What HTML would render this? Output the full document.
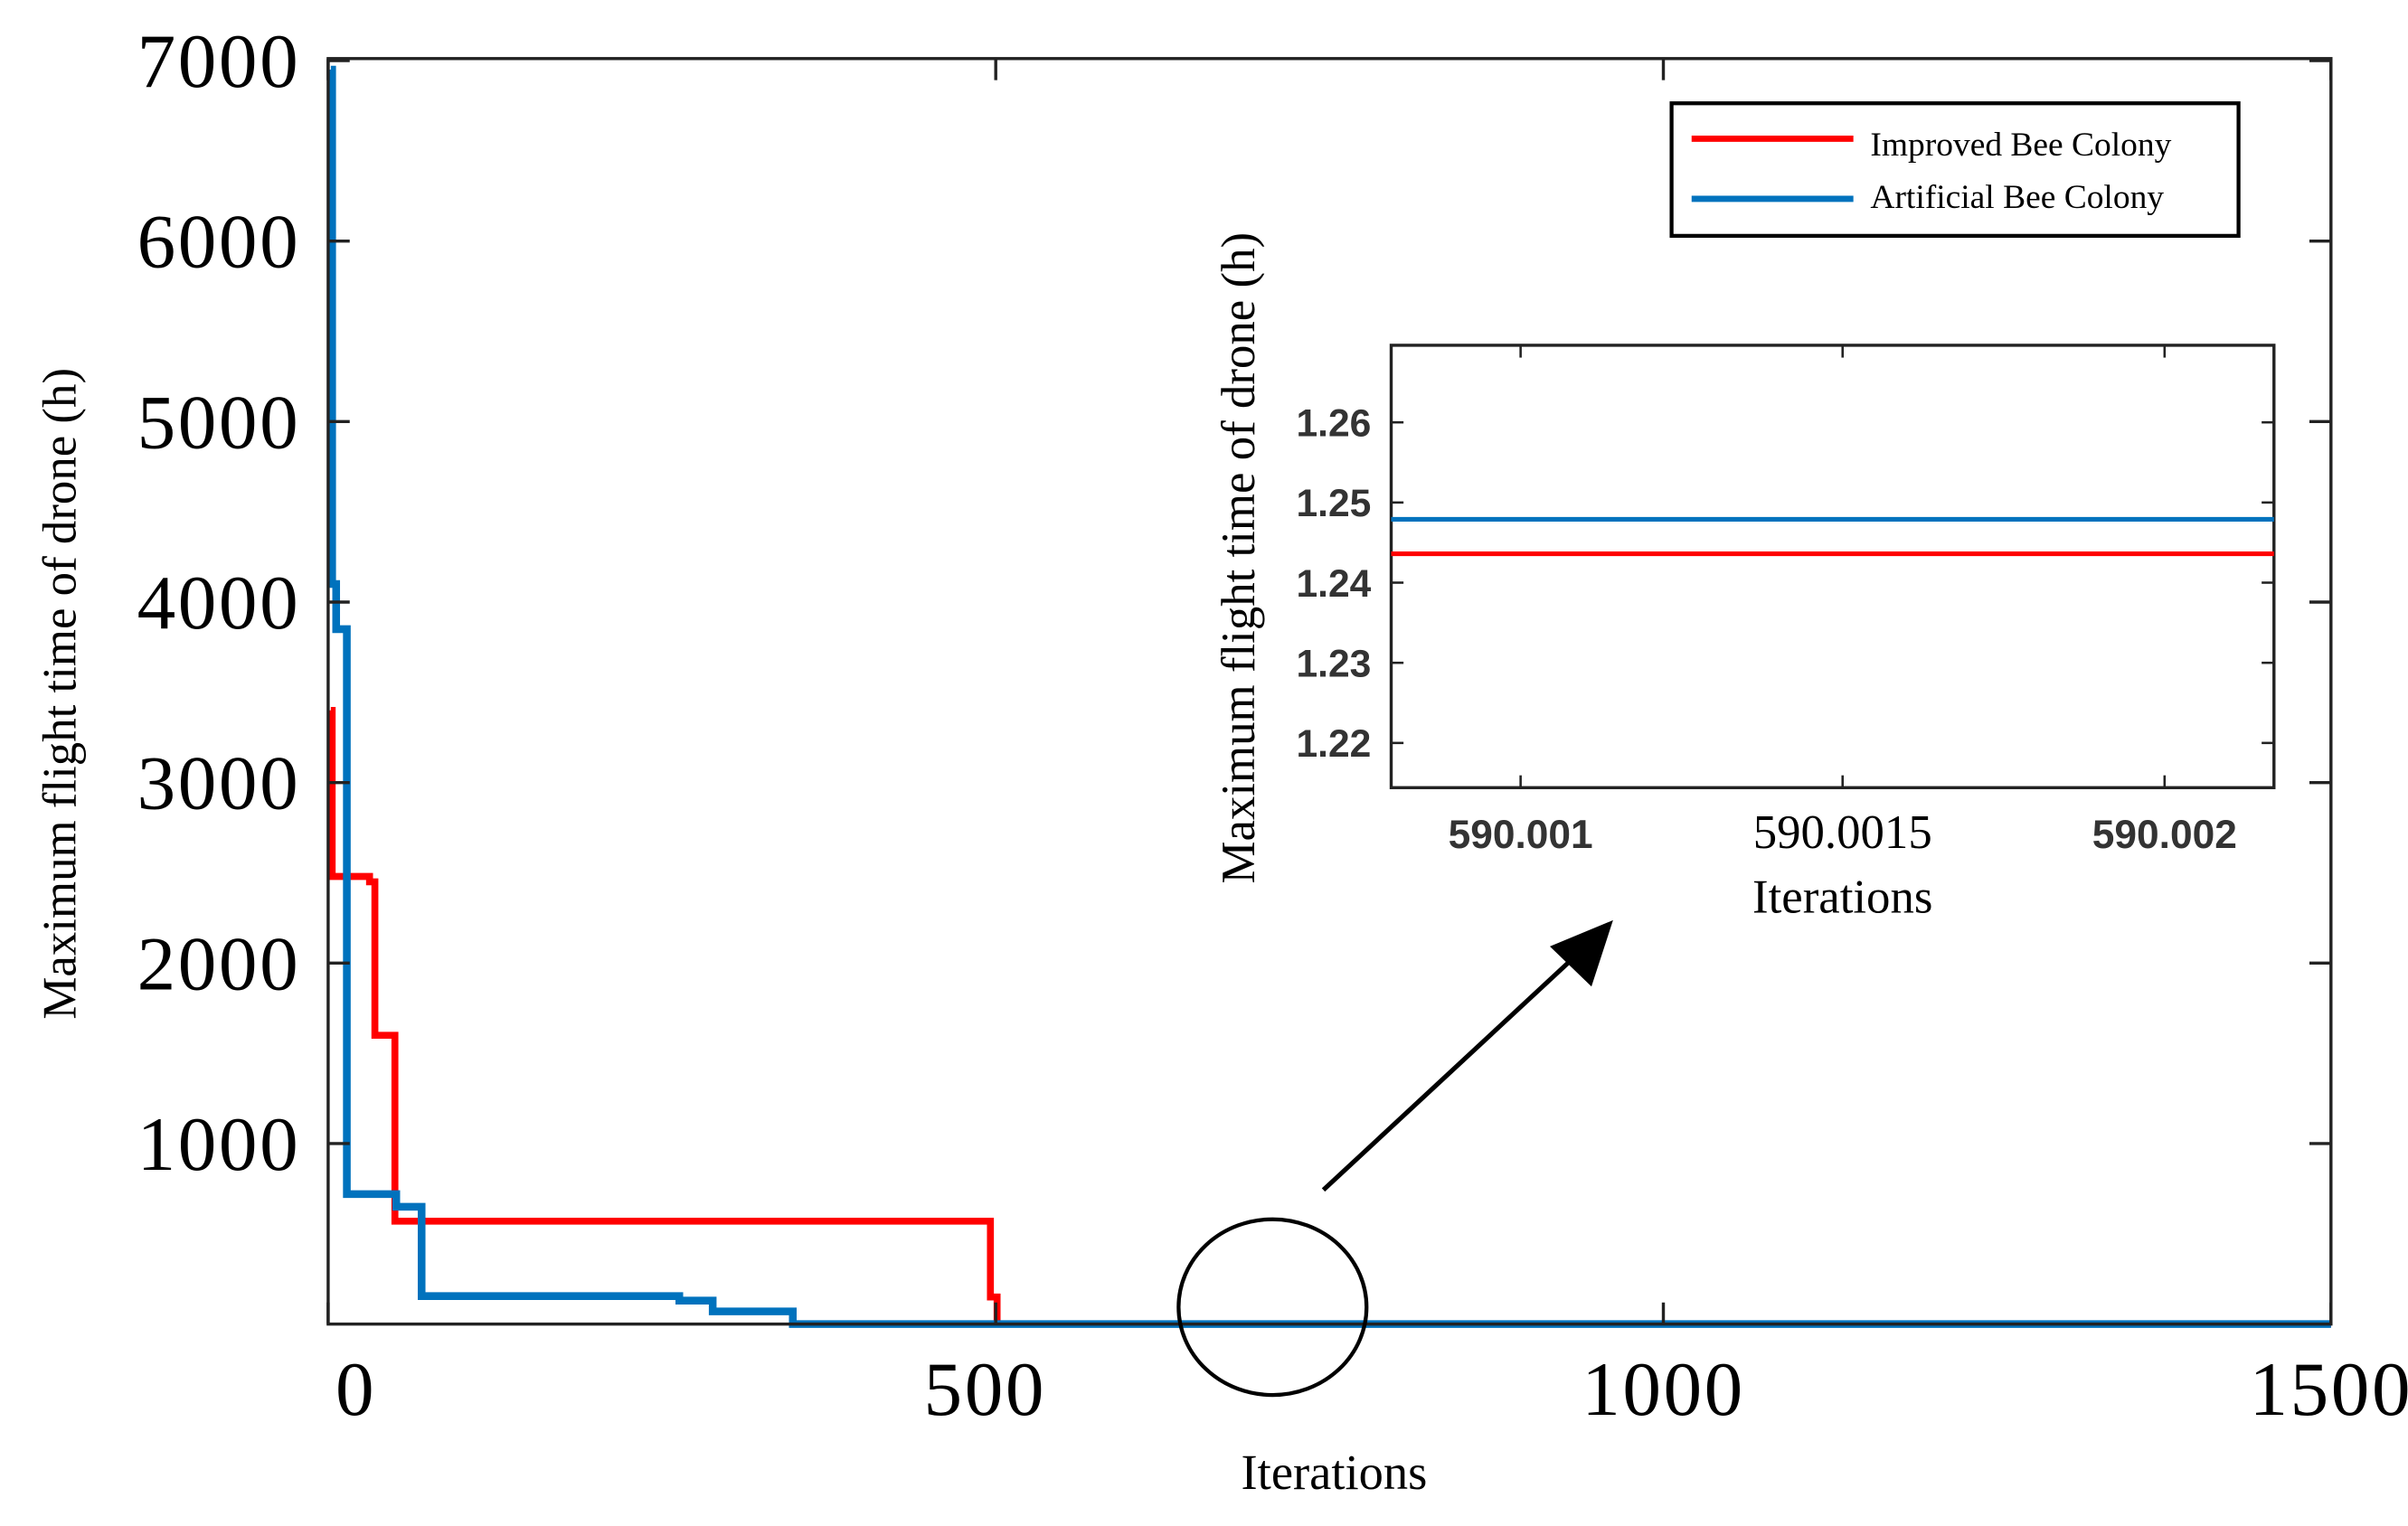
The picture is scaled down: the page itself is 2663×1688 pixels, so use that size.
<!DOCTYPE html>
<html><head><meta charset="utf-8"><style>
html,body{margin:0;padding:0;background:#fff;}
svg{display:block;}
</style></head><body>
<svg id="chart" width="2663" height="1688" viewBox="0 0 1563 990" preserveAspectRatio="none" xmlns="http://www.w3.org/2000/svg">
<g id="main"></g>
<g id="inset"></g>
<g id="legend">
<rect x="1085" y="67" width="368" height="86" fill="#fff" stroke="#000" stroke-width="2.5"/>
<line x1="1098" y1="90" x2="1203" y2="90" stroke="#ff0000" stroke-width="4"/>
<text x="1214" y="101" font-family="Liberation Serif, serif" font-size="22">Improved Bee Colony</text>
<line x1="1098" y1="129" x2="1203" y2="129" stroke="#0072bd" stroke-width="4"/>
<text x="1214" y="135" font-family="Liberation Serif, serif" font-size="22">Artificial Bee Colony</text>
</g>
<ellipse cx="826" cy="848" rx="61" ry="57" fill="none" stroke="#000" stroke-width="2.5"/>
<line x1="859" y1="772" x2="1025" y2="618" stroke="#000" stroke-width="3"/>
<polygon points="1047,597 1033,640 1006,614" fill="#000"/>
</svg>
<script>
// main chart data: iteration where each value begins, and the value
const redIter = [2, 3, 31, 35, 50, 496, 501];
const redVal = [3400, 2480, 2450, 1600, 570, 150, 0];
const blueIter = [2, 3, 6, 14, 51, 70, 263, 288, 348];
const blueVal = [6950, 4100, 3850, 720, 650, 155, 130, 70, 0];
const yTicks = [1000, 2000, 3000, 4000, 5000, 6000, 7000];
const xTicks = [0, 500, 1000, 1500];
const xTickLabels = ["0", "500", "1000", "1500"];
// inset data
const insetRed = [1.2436];
const insetBlue = [1.2479];
const insetYTicks = [1.22, 1.23, 1.24, 1.25, 1.26];
const insetXTicks = [590.001, 590.0015, 590.002];
const insetXLabels = ["590.001", "590.0015", "590.002"];

const NS = "http://www.w3.org/2000/svg";
function mk(tag, attrs, parent, txt) {
  const e = document.createElementNS(NS, tag);
  for (const k in attrs) e.setAttribute(k, attrs[k]);
  if (txt !== undefined) e.textContent = txt;
  parent.appendChild(e);
  return e;
}
const L = 213, R = 1513, T = 38, B = 859;
const xs = v => L + (v / 1500) * (R - L);
const ys = v => B - v * 0.1171;
const main = document.getElementById('main');

function stepPath(it, va) {
  let d = `M${xs(it[0])},${ys(va[0])}`;
  for (let i = 1; i < it.length; i++) d += ` H${xs(it[i])} V${ys(va[i])}`;
  d += ` H${xs(1500)}`;
  return d;
}
let p = mk('path', { d: stepPath(redIter, redVal), fill: 'none', stroke: '#ff0000', 'stroke-width': 4.5 }, main);


p = mk('path', { d: stepPath(blueIter, blueVal), fill: 'none', stroke: '#0072bd', 'stroke-width': 5 }, main);



let fr = mk('rect', { x: L, y: T, width: R - L, height: B - T, fill: 'none', stroke: '#222', 'stroke-width': 2 }, main);



yTicks.forEach(v => {
  const y = ys(v);
  mk('line', { x1: L, y1: y, x2: L + 14, y2: y, stroke: '#222', 'stroke-width': 2 }, main);
  mk('line', { x1: R, y1: y, x2: R - 14, y2: y, stroke: '#222', 'stroke-width': 2 }, main);
  const t = mk('text', { x: 195, y: y + 17, 'text-anchor': 'end', 'font-family': 'Liberation Serif, serif', 'font-size': 50, 'letter-spacing': 1.5 }, main, String(v));
  
  
});
xTicks.forEach((v, i) => {
  const x = xs(v);
  mk('line', { x1: x, y1: B, x2: x, y2: B - 14, stroke: '#222', 'stroke-width': 2 }, main);
  mk('line', { x1: x, y1: T, x2: x, y2: T + 14, stroke: '#222', 'stroke-width': 2 }, main);
  const lx = i === 0 ? x + 18 : (i === 1 ? x - 7 : x);
  const t = mk('text', { x: lx, y: 918, 'text-anchor': 'middle', 'font-family': 'Liberation Serif, serif', 'font-size': 50, 'letter-spacing': 1.5 }, main, xTickLabels[i]);
  
  
});
let t = mk('text', { x: 866, y: 966, 'text-anchor': 'middle', 'font-family': 'Liberation Serif, serif', 'font-size': 32 }, main, 'Iterations');


t = mk('text', { x: 0, y: 0, transform: 'translate(49,450) rotate(-90)', 'text-anchor': 'middle', 'font-family': 'Liberation Serif, serif', 'font-size': 31 }, main, 'Maximum flight time of drone  (h)');



// inset
const inset = document.getElementById('inset');
const iL = 903, iR = 1476, iT = 224, iB = 511;
const iy = v => 274 + (1.26 - v) / 0.01 * 52;
const ix = v => 987 + (v - 590.001) / 0.0005 * 209;
mk('rect', { x: iL, y: iT, width: iR - iL, height: iB - iT, fill: '#fff', stroke: '#222', 'stroke-width': 2 }, inset);
insetYTicks.forEach(v => {
  const y = iy(v);
  mk('line', { x1: iL, y1: y, x2: iL + 8, y2: y, stroke: '#222', 'stroke-width': 1.5 }, inset);
  mk('line', { x1: iR, y1: y, x2: iR - 8, y2: y, stroke: '#222', 'stroke-width': 1.5 }, inset);
  const tt = mk('text', { x: 890, y: y + 9, 'text-anchor': 'end', 'font-family': 'Liberation Sans, sans-serif', 'font-size': 25, 'font-weight': 'bold', fill: '#333' }, inset, v.toFixed(2));
  
  
});
insetXTicks.forEach((v, i) => {
  const x = ix(v);
  mk('line', { x1: x, y1: iB, x2: x, y2: iB - 8, stroke: '#222', 'stroke-width': 1.5 }, inset);
  mk('line', { x1: x, y1: iT, x2: x, y2: iT + 8, stroke: '#222', 'stroke-width': 1.5 }, inset);
  const tt = mk('text', { x: x, y: 550, 'text-anchor': 'middle', 'font-family': i === 1 ? 'Liberation Serif, serif' : 'Liberation Sans, sans-serif', 'font-size': i === 1 ? 31 : 26, 'font-weight': i === 1 ? 'normal' : 'bold', fill: i === 1 ? '#000' : '#333' }, inset, insetXLabels[i]);
  
  
});
let ln = mk('line', { x1: iL, y1: iy(insetBlue[0]), x2: iR, y2: iy(insetBlue[0]), stroke: '#0072bd', 'stroke-width': 3 }, inset);


ln = mk('line', { x1: iL, y1: iy(insetRed[0]), x2: iR, y2: iy(insetRed[0]), stroke: '#ff0000', 'stroke-width': 3 }, inset);


t = mk('text', { x: 1196, y: 592, 'text-anchor': 'middle', 'font-family': 'Liberation Serif, serif', 'font-size': 31 }, inset, 'Iterations');


t = mk('text', { x: 0, y: 0, transform: 'translate(814,362) rotate(-90)', 'text-anchor': 'middle', 'font-family': 'Liberation Serif, serif', 'font-size': 31 }, inset, 'Maximum flight time of drone  (h)');


</script>
</body></html>
